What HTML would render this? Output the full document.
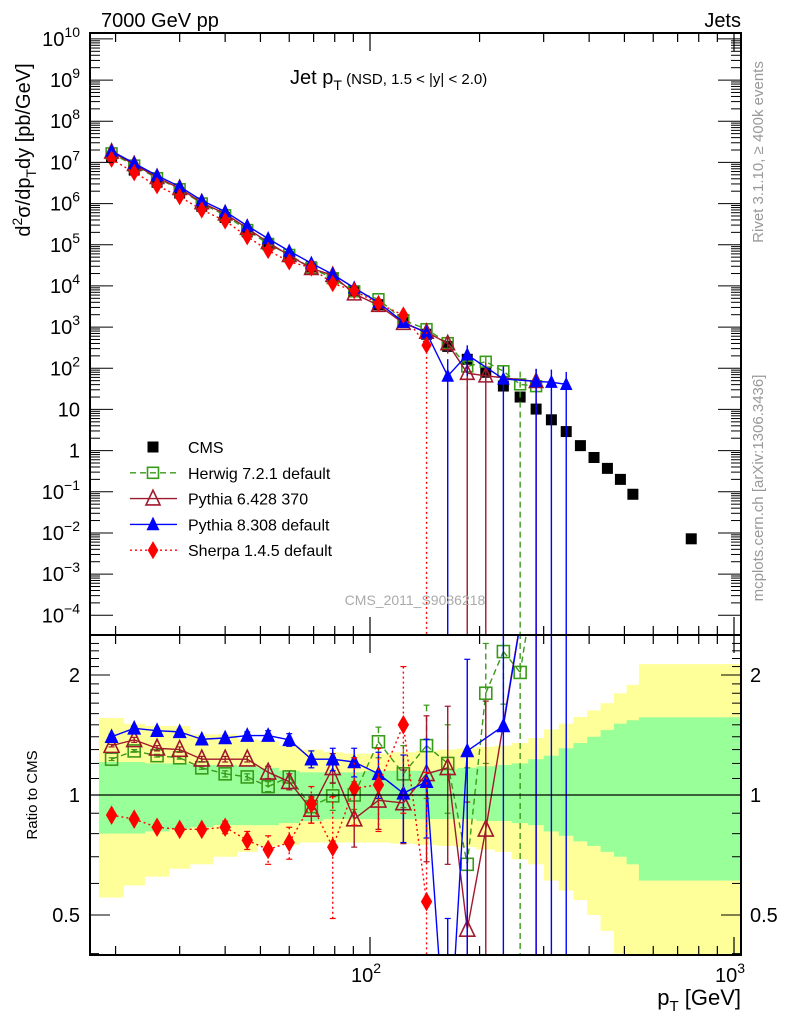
<!DOCTYPE html>
<html><head><meta charset="utf-8">
<style>
html,body{margin:0;padding:0;background:#fff;width:786px;height:1024px;overflow:hidden;}
svg{display:block;font-family:"Liberation Sans","DejaVu Sans",sans-serif;}
</style></head>
<body>
<svg id="chart" width="786" height="1024" viewBox="0 0 786 1024" xmlns="http://www.w3.org/2000/svg">
<defs>
<clipPath id="clipMain"><rect x="90" y="33" width="651" height="602"/></clipPath>
<clipPath id="clipRatio"><rect x="90" y="635" width="651" height="320"/></clipPath>
</defs>
<g id="bands" clip-path="url(#clipRatio)"></g>
<g id="mainMarks" clip-path="url(#clipMain)"></g>
<g id="ratioMarks" clip-path="url(#clipRatio)"></g>
<g id="axes"></g>

<text x="101" y="27" font-size="20">7000 GeV pp</text>
<text x="741" y="27" font-size="20" text-anchor="end">Jets</text>
<text x="290" y="84" font-size="20">Jet p<tspan font-size="14" dy="6">T</tspan><tspan font-size="15" dy="-6"> (NSD, 1.5 &lt; |y| &lt; 2.0)</tspan></text>
<text transform="translate(30,150) rotate(-90)" font-size="20" text-anchor="middle">d<tspan font-size="14" dy="-8">2</tspan><tspan dy="8">σ/dp</tspan><tspan font-size="14" dy="6">T</tspan><tspan dy="-6">dy [pb/GeV]</tspan></text>
<text transform="translate(763,152) rotate(-90)" font-size="15" fill="#999" text-anchor="middle">Rivet 3.1.10, ≥ 400k events</text>
<text transform="translate(763,488) rotate(-90)" font-size="15" fill="#999" text-anchor="middle">mcplots.cern.ch [arXiv:1306.3436]</text>
<text x="415" y="605" font-size="14" fill="#aaa" text-anchor="middle">CMS_2011_S9086218</text>
<text transform="translate(37,795) rotate(-90)" font-size="15" text-anchor="middle">Ratio to CMS</text>
<text x="741" y="1005" font-size="22" text-anchor="end">p<tspan font-size="15" dy="6">T</tspan><tspan dy="-6"> [GeV]</tspan></text>

<g id="legend"></g>
</svg>
<script>
// ---- data ----
const binCenters = [19.5,22.5,26,30,34.5,40,46,52.5,60,69,79,90.5,105.5,123.5,143,163.5,185,208,232.5,258.5,286,315,346,378.5,412.5,449,487.5,527.5,763];
const cmsValues = [1.35e7,6.5e6,3.3e6,1.8e6,8.6e5,4.6e5,2.05e5,1.0e5,5.1e4,2.9e4,1.55e4,7.4e3,3.5e3,1.3e3,670,340,165,80,37,20,10.2,5.6,2.9,1.32,0.68,0.37,0.20,0.087,0.0072];
const herwigRatio = [1.23,1.29,1.255,1.24,1.17,1.13,1.11,1.05,1.11,0.935,0.995,1.0,1.36,1.13,1.33,1.2,0.67,1.80,2.29,2.03,3.6];
const herwigErr = [0.01,0.01,0.01,0.01,0.01,0.02,0.02,0.03,0.04,0.05,0.08,0.08,0.12,0.2,0.35,0.3,0.5,0.6,0.6,2.1,1.0];
const pythia6Ratio = [1.33,1.375,1.31,1.30,1.23,1.23,1.23,1.14,1.08,0.92,1.17,0.87,0.97,0.955,1.13,1.17,0.46,0.82,null,null,4.7];
const pythia6Err = [0.01,0.02,0.02,0.02,0.02,0.02,0.02,0.04,0.05,0.07,0.1,0.13,0.15,0.2,0.45,0.5,0.5,0.9,null,null,4.8];
const pythia8Ratio = [1.40,1.47,1.45,1.44,1.38,1.39,1.41,1.41,1.375,1.23,1.23,1.21,1.13,1.01,1.08,0.19,1.29,null,1.49,null,4.7,8.2,14];
const pythia8Err = [0.02,0.02,0.02,0.02,0.02,0.02,0.03,0.04,0.05,0.06,0.08,0.1,0.15,0.25,0.3,0.3,0.9,null,1.5,null,4.8,8.3,14.1];
const sherpaRatio = [0.89,0.87,0.83,0.82,0.82,0.83,0.77,0.73,0.76,0.95,0.74,1.04,1.06,1.50,0.54];
const sherpaErr = [0.01,0.01,0.01,0.01,0.02,0.03,0.04,0.06,0.07,0.1,0.25,0.2,0.25,0.6,0.6];
const bandEdges = [18,21,24,28,32,37,43,49,56,64,74,84,97,114,133,153,174,196,220,245,272,300,330,362,395,430,468,507,548,1040];
const yellowUpper = [1.56,1.51,1.49,1.49,1.42,1.42,1.38,1.37,1.33,1.30,1.28,1.27,1.27,1.28,1.29,1.30,1.31,1.32,1.33,1.35,1.39,1.46,1.51,1.57,1.63,1.70,1.80,1.89,2.13];
const yellowLower = [0.553,0.593,0.624,0.653,0.67,0.70,0.72,0.744,0.75,0.76,0.76,0.76,0.76,0.755,0.75,0.745,0.74,0.73,0.72,0.69,0.67,0.61,0.576,0.545,0.50,0.456,0.40,0.38,0.30];
const greenUpper = [1.21,1.21,1.20,1.20,1.19,1.19,1.18,1.17,1.15,1.14,1.14,1.14,1.15,1.15,1.15,1.16,1.17,1.18,1.19,1.20,1.23,1.255,1.31,1.35,1.40,1.455,1.51,1.54,1.567];
const greenLower = [0.80,0.80,0.81,0.82,0.83,0.84,0.84,0.84,0.85,0.86,0.87,0.87,0.87,0.87,0.87,0.87,0.87,0.86,0.86,0.85,0.84,0.81,0.79,0.765,0.745,0.72,0.70,0.67,0.61];
const mainYTicks = [-4,-3,-2,-1,0,1,2,3,4,5,6,7,8,9,10];
const ratioYTickLabels = [0.5,1,2];

// ---- scales ----
const NS='http://www.w3.org/2000/svg';
const L=90,R=741,MT=33,MB=635,RB=955;
const X=p=>370+364*Math.log10(p/100);
const YM=v=>450.6-41.17*Math.log10(v);
const YR=r=>795-398.6*Math.log10(r);
const clampY=(y,a,b)=>Math.max(a,Math.min(b,y));
function el(tag,attrs,parent){const e=document.createElementNS(NS,tag);for(const k in attrs)e.setAttribute(k,attrs[k]);if(parent)parent.appendChild(e);return e;}

// clip a segment to y range [ya,yb]; returns null if fully outside
function clipSeg(x1,y1,x2,y2,ya,yb){
  let t0=0,t1=1; const dy=y2-y1;
  const test=(p,q)=>{ if(p===0) return q>=0; const r=q/p; if(p<0){ if(r>t1) return false; if(r>t0) t0=r; } else { if(r<t0) return false; if(r<t1) t1=r; } return true; };
  if(!test(-dy,y1-ya)) return null;
  if(!test(dy,yb-y1)) return null;
  return [x1+(x2-x1)*t0,y1+dy*t0,x1+(x2-x1)*t1,y1+dy*t1];
}

// ---- bands ----
const gB=document.getElementById('bands');
for(let i=0;i<yellowUpper.length;i++){
  const x0=X(bandEdges[i]),x1=X(bandEdges[i+1]);
  const yt=YR(yellowUpper[i]), yb=clampY(YR(yellowLower[i]),MB,RB);
  const y=el('rect',{x:x0,y:yt,width:x1-x0+0.5,height:yb-yt,fill:'#ffff99'},gB);
  
  
}
for(let i=0;i<greenUpper.length;i++){
  const x0=X(bandEdges[i]),x1=X(bandEdges[i+1]);
  const g=el('rect',{x:x0,y:YR(greenUpper[i]),width:x1-x0+0.5,height:YR(greenLower[i])-YR(greenUpper[i]),fill:'#99ff99'},gB);
  
  
}

// ---- markers ----
function marker(g,type,x,y,color,s){
  let m;
  if(type==='sq') m=el('rect',{x:x-s/2,y:y-s/2,width:s,height:s,fill:'#000'},g);
  else if(type==='osq') m=el('rect',{x:x-s/2,y:y-s/2,width:s,height:s,fill:'none',stroke:color,'stroke-width':1.6},g);
  else if(type==='otri') m=el('polygon',{points:`${x},${y-s*0.6} ${x-s/2},${y+s*0.45} ${x+s/2},${y+s*0.45}`,fill:'none',stroke:color,'stroke-width':1.6},g);
  else if(type==='tri') m=el('polygon',{points:`${x},${y-s*0.6} ${x-s/2},${y+s*0.45} ${x+s/2},${y+s*0.45}`,fill:color},g);
  else m=el('polygon',{points:`${x},${y-s*0.65} ${x-s*0.38},${y} ${x},${y+s*0.65} ${x+s*0.38},${y}`,fill:color},g);
  return m;
}
const gM=document.getElementById('mainMarks');
const gR=document.getElementById('ratioMarks');

binCenters.forEach((p,i)=>{
  const m=marker(gM,'sq',X(p),YM(cmsValues[i]),'#000',11);
  
  
});

const series=[
  {name:'herwig',ratio:herwigRatio,err:herwigErr,color:'#3a9a1a',type:'osq',dash:'6,4',size:12},
  {name:'pythia6',ratio:pythia6Ratio,err:pythia6Err,color:'#a0182c',type:'otri',dash:'',size:15},
  {name:'pythia8',ratio:pythia8Ratio,err:pythia8Err,color:'#0000ff',type:'tri',dash:'',size:14},
  {name:'sherpa',ratio:sherpaRatio,err:sherpaErr,color:'#ff0000',type:'dia',dash:'2,3',size:15}
];
series.forEach(s=>{
  const ptsM=[],ptsR=[];
  s.ratio.forEach((r,i)=>{ if(r==null) return;
    const v=r*cmsValues[i]; ptsM.push([X(binCenters[i]),YM(v)]); ptsR.push([X(binCenters[i]),YR(r)]); });
  const lm=el('polyline',{points:ptsM.map(p=>p.join(',')).join(' '),fill:'none',stroke:s.color,'stroke-width':1.4,'stroke-dasharray':s.dash},gM);
  
  
  for(let k=0;k<ptsR.length-1;k++){
    const c=clipSeg(ptsR[k][0],ptsR[k][1],ptsR[k+1][0],ptsR[k+1][1],MB-2,RB+2);
    if(!c) continue;
    const seg=el('line',{x1:c[0],y1:c[1],x2:c[2],y2:c[3],stroke:s.color,'stroke-width':1.4,'stroke-dasharray':s.dash},gR);
    
    
  }
  s.ratio.forEach((r,i)=>{ if(r==null) return;
    const x=X(binCenters[i]); const e=s.err[i]||0;
    const lo=r-e, hi=r+e;
    const yh=clampY(YR(hi),MB-2,RB+2), yl=lo>0?clampY(YR(lo),MB-2,RB+2):RB+2;
    const eb=el('line',{x1:x,x2:x,y1:yh,y2:yl,stroke:s.color,'stroke-width':1.4,'stroke-dasharray':s.dash},gR);
    
    
    el('line',{x1:x-3,x2:x+3,y1:yh,y2:yh,stroke:s.color,'stroke-width':1.2},gR);
    if(lo>0) el('line',{x1:x-3,x2:x+3,y1:yl,y2:yl,stroke:s.color,'stroke-width':1.2},gR);
    const v=r*cmsValues[i], ev=e*cmsValues[i];
    const myh=clampY(YM(v+ev),MT-2,MB+2), myl=(v-ev)>0?clampY(YM(v-ev),MT-2,MB+2):MB+2;
    const em=el('line',{x1:x,x2:x,y1:myh,y2:myl,stroke:s.color,'stroke-width':1.4,'stroke-dasharray':s.dash},gM);
    
    
    const mm=marker(gM,s.type,x,YM(v),s.color,s.size*0.9);
    
    
    const yr=YR(r);
    if(yr>MB-10 && yr<RB+10){
      const mr=marker(gR,s.type,x,yr,s.color,s.size);
      
      
    }
  });
});

// ---- axes ----
const gA=document.getElementById('axes');
el('rect',{x:L,y:MT,width:R-L,height:RB-MT,fill:'none',stroke:'#000','stroke-width':2},gA);
el('line',{x1:L,x2:R,y1:MB,y2:MB,stroke:'#000','stroke-width':2},gA);
el('line',{x1:L,x2:R,y1:YR(1),y2:YR(1),stroke:'#000','stroke-width':1.3},gA);
for(let d=10;d<=1000;d*=10){for(let k=1;k<10;k++){const p=d*k; if(p<17||p>1040) continue;
  const x=X(p); const len=(k===1)?18:9;
  [[MT,1],[MB,-1],[MB,1],[RB,-1]].forEach(([y,dir])=>el('line',{x1:x,x2:x,y1:y,y2:y+dir*len,stroke:'#000','stroke-width':1.2},gA));
}}
mainYTicks.forEach(k=>{
  for(let m=1;m<10;m++){const v=m*Math.pow(10,k); const y=YM(v); if(y<MT||y>MB) continue;
    const len=m===1?23:10;
    el('line',{x1:L,x2:L+len,y1:y,y2:y,stroke:'#000','stroke-width':1},gA);
    el('line',{x1:R,x2:R-len,y1:y,y2:y,stroke:'#000','stroke-width':1},gA);
  }
  const t=el('text',{x:80,y:YM(Math.pow(10,k))+7,'font-size':20,'text-anchor':'end'},gA);
  
  
  if(k===0) t.textContent='1';
  else if(k===1) t.textContent='10';
  else t.innerHTML='10<tspan font-size="14" dy="-9">'+(k<0?'−'+(-k):k)+'</tspan>';
});
for(let r=0.4;r<=2.5;r+=0.1){const v=Math.round(r*10)/10; const y=YR(v); if(y<MB||y>RB) continue;
  const major=(v===0.5||v===1||v===2); const len=major?20:9;
  el('line',{x1:L,x2:L+len,y1:y,y2:y,stroke:'#000','stroke-width':1},gA);
  el('line',{x1:R,x2:R-len,y1:y,y2:y,stroke:'#000','stroke-width':1},gA);
}
ratioYTickLabels.forEach(v=>{
  const t1=el('text',{x:80,y:YR(v)+7,'font-size':20,'text-anchor':'end'},gA); t1.textContent=String(v);
  
  
  const t2=el('text',{x:750,y:YR(v)+7,'font-size':20},gA); t2.textContent=String(v);
  
  
});
[[100,'2'],[1000,'3']].forEach(([p,e])=>{
  const t=el('text',{x:X(p)-4,y:982,'font-size':20,'text-anchor':'middle'},gA);
  t.innerHTML='10<tspan font-size="14" dy="-9">'+e+'</tspan>';
  
  
});

// ---- legend ----
const gL=document.getElementById('legend');
const legendItems=[['CMS','sq','#000','',11],['Herwig 7.2.1 default','osq','#3a9a1a','6,4',11],['Pythia 6.428 370','otri','#a0182c','',14],['Pythia 8.308 default','tri','#0000ff','',13],['Sherpa 1.4.5 default','dia','#ff0000','2,3',14]];
legendItems.forEach((it,i)=>{
  const y=447+i*25.8;
  if(i>0){const ln=el('line',{x1:130,x2:177,y1:y,y2:y,stroke:it[2],'stroke-width':1.4,'stroke-dasharray':it[3]},gL);
     }
  const m=marker(gL,it[1],153,y,it[2],it[4]);
  
  
  const t=el('text',{x:188,y:y+6,'font-size':16},gL); t.textContent=it[0];
  
  
});
</script>
</body></html>
